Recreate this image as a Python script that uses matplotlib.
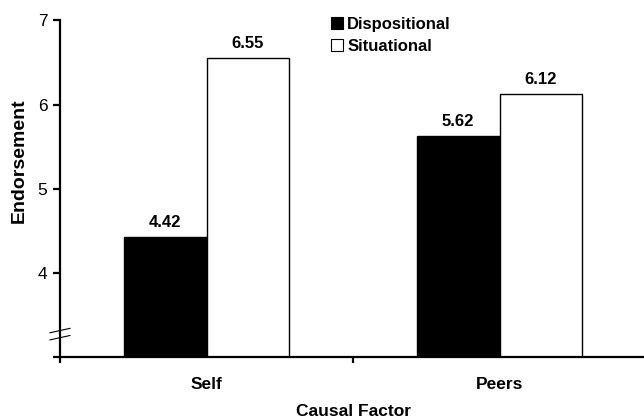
import matplotlib
matplotlib.use("Agg")
import matplotlib.pyplot as plt
from matplotlib.patches import Patch
from matplotlib.lines import Line2D
import numpy as np

categories = ["Self", "Peers"]
dispositional = [4.42, 5.62]
situational = [6.55, 6.12]
series_names = ["Dispositional", "Situational"]
y_ticks = [3, 4, 5, 6, 7]
y_tick_labels = ["", "4", "5", "6", "7"]

plt.rcParams['font.family'] = ['Liberation Sans', 'DejaVu Sans']

W, H = 644, 419
fig = plt.figure(figsize=(W / 100, H / 100), dpi=100)
ax = fig.add_axes([60 / W, 1 - 356.6 / H, (646 - 60) / W, (356.6 - 20.5) / H])

x = np.arange(len(categories))
bw = 0.283
b1 = ax.bar(x - bw / 2, dispositional, bw, bottom=0, color="black",
            edgecolor="black", linewidth=1.0)
b2 = ax.bar(x + bw / 2, situational, bw, bottom=0, color="white",
            edgecolor="black", linewidth=1.0)

for bars, vals in ((b1, dispositional), (b2, situational)):
    for rect, v in zip(bars, vals):
        ax.annotate(f"{v:.2f}", (rect.get_x() + rect.get_width() / 2, v),
                    xytext=(0, 7.5), textcoords="offset points",
                    ha="center", va="baseline", fontsize=12, fontweight="bold")

ax.set_xlim(-0.5, 1.5)
ax.set_ylim(3, 7)

for s in ("top", "right"):
    ax.spines[s].set_visible(False)
for s in ("left", "bottom"):
    ax.spines[s].set_linewidth(1.6)

ax.set_yticks(y_ticks)
ax.set_yticklabels(y_tick_labels, fontsize=12.5)
ax.tick_params(axis="y", direction="out", length=5, width=1.6, pad=4)

ax.set_xticks([-0.5, 0.5, 1.5])
ax.set_xticklabels(["", "", ""])
ax.tick_params(axis="x", which="major", direction="out", length=4, width=1.6)
ax.set_xticks(x, categories, minor=True)
ax.tick_params(axis="x", which="minor", length=0, pad=14.5, labelsize=12.5)
for lab in ax.get_xticklabels(minor=True):
    lab.set_fontweight("bold")

fig.text(353 / W, 1 - 411 / H, "Causal Factor", ha="center", va="center",
         fontsize=12.5, fontweight="bold")
fig.text(19 / W, 1 - 161 / H, "Endorsement", ha="center", va="center",
         rotation=90, fontsize=14, fontweight="bold")

# axis break marks
fig.canvas.draw()
inv = fig.transFigure.inverted()
for yv in (3.31, 3.225):
    px, py = ax.transData.transform((-0.5, yv))
    p0 = inv.transform((px - 10, py - 2.2))
    p1 = inv.transform((px + 10, py + 2.2))
    fig.add_artist(Line2D([p0[0], p1[0]], [p0[1], p1[1]], color="black",
                          linewidth=0.8, transform=fig.transFigure))

handles = [Patch(facecolor="black", edgecolor="black", linewidth=0.8),
           Patch(facecolor="white", edgecolor="black", linewidth=0.8)]
leg = fig.legend(handles, series_names, loc="upper left",
                 bbox_to_anchor=(331 / W, 1 - 16.5 / H), frameon=False,
                 borderpad=0, borderaxespad=0, handlelength=0.72,
                 handleheight=0.72, handletextpad=0.25, labelspacing=0.45,
                 prop={"size": 12, "weight": "bold"})

fig.savefig("out.png", dpi=100)
